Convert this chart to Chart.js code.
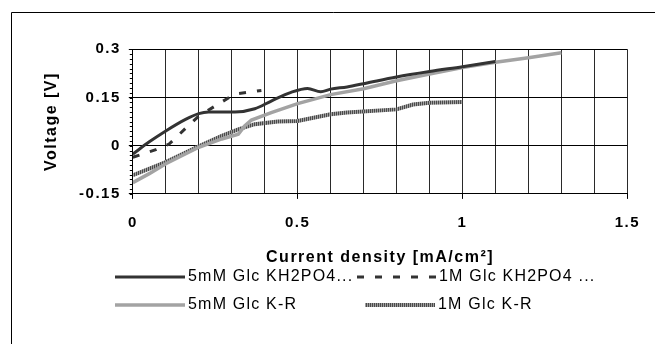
<!DOCTYPE html>
<html>
<head>
<meta charset="utf-8">
<script src="https://cdn.jsdelivr.net/npm/chart.js@4/dist/chart.umd.min.js"></script>
<style>
  body { margin: 0; background: #fff; }
  canvas { display: block; }
</style>
</head>
<body>
<canvas id="myChart" width="655" height="344"></canvas>
<script>
'use strict';
// data
var seriesNames = ['5mM Glc KH2PO4...', '1M Glc KH2PO4 ...', '5mM Glc K-R', '1M Glc K-R'];

var kh5mX = [0, 0.05, 0.1, 0.16, 0.2, 0.23, 0.31, 0.37, 0.42, 0.48, 0.53, 0.57, 0.6, 0.65, 0.7, 0.8, 0.9, 1.0, 1.1];
var kh5mY = [-0.026, 0.012, 0.046, 0.082, 0.1, 0.105, 0.105, 0.115, 0.139, 0.166, 0.178, 0.168, 0.176, 0.183, 0.193, 0.214, 0.231, 0.246, 0.262];

var kh1MX = [0, 0.07, 0.11, 0.16, 0.2, 0.26, 0.31, 0.39];
var kh1MY = [-0.036, -0.012, 0.005, 0.054, 0.092, 0.13, 0.161, 0.172];

var kr5mX = [0, 0.05, 0.1, 0.2, 0.27, 0.32, 0.34, 0.36, 0.42, 0.5, 0.6, 0.7, 0.8, 0.9, 1.0, 1.1, 1.2, 1.3];
var kr5mY = [-0.115, -0.087, -0.056, -0.005, 0.021, 0.036, 0.062, 0.08, 0.103, 0.131, 0.159, 0.177, 0.202, 0.223, 0.243, 0.26, 0.274, 0.289];

var kr1MX = [0, 0.1, 0.2, 0.27, 0.32, 0.37, 0.44, 0.5, 0.6, 0.65, 0.8, 0.85, 0.9, 1.0];
var kr1MY = [-0.092, -0.051, -0.002, 0.031, 0.051, 0.067, 0.075, 0.077, 0.098, 0.103, 0.113, 0.128, 0.134, 0.136];

var xTickLabels = ['0', '0.5', '1', '1.5'];
var yTickLabels = ['-0.15', '0', '0.15', '0.3'];

var FONT = "'Liberation Sans', Arial, sans-serif";

var toPoints = function (xs, ys) {
  return xs.map(function (x, i) { return { x: x, y: ys[i] }; });
};

// striped line like the excel pattern
var stripeCanvas = document.createElement('canvas');
stripeCanvas.width = 2;
stripeCanvas.height = 1;
var sctx = stripeCanvas.getContext('2d');
sctx.fillStyle = '#4a4a4a';
sctx.fillRect(0, 0, 1, 1);
sctx.fillStyle = '#a0a0a0';
sctx.fillRect(1, 0, 1, 1);
var stripe = sctx.createPattern(stripeCanvas, 'repeat');

var isMajorX = function (v) {
  return Math.abs(v * 2 - Math.round(v * 2)) < 1e-6;
};

// spacing + frame + legend
var excelLook = {
  id: 'excelLook',
  beforeLayout: function (chart) {
    chart.ctx.letterSpacing = '1.5px';
  },
  beforeDraw: function (chart) {
    chart.ctx.letterSpacing = '1.5px';
  },
  afterDraw: function (chart) {
    var ctx = chart.ctx;
    ctx.save();
    // outer frame
    ctx.strokeStyle = '#000';
    ctx.lineWidth = 1;
    ctx.beginPath();
    ctx.moveTo(11.5, 400);
    ctx.lineTo(11.5, 12.5);
    ctx.lineTo(700, 12.5);
    ctx.stroke();

    // minor ticks on the y axis
    var yScale = chart.scales.y;
    var left = chart.chartArea.left;
    ctx.beginPath();
    for (var k = 0; k <= 30; k++) {
      var py = Math.round(yScale.getPixelForValue(-0.15 + k * 0.015)) + 0.5;
      ctx.moveTo(left - 3, py);
      ctx.lineTo(left, py);
    }
    ctx.stroke();

    // legend, 2 x 2
    var slots = [
      { x0: 115, x1: 185, tx: 188, y: 277 },
      { x0: 357, x1: 437, tx: 439, y: 277 },
      { x0: 115, x1: 185, tx: 188, y: 305 },
      { x0: 365, x1: 435, tx: 438, y: 305 }
    ];
    ctx.font = '16px ' + FONT;
    ctx.letterSpacing = '1.2px';
    ctx.textBaseline = 'middle';
    ctx.textAlign = 'left';
    chart.data.datasets.forEach(function (ds, i) {
      var s = slots[i];
      ctx.strokeStyle = ds.borderColor;
      ctx.lineWidth = ds.borderWidth;
      ctx.setLineDash(ds.borderDash || []);
      ctx.beginPath();
      ctx.moveTo(s.x0, s.y);
      ctx.lineTo(s.x1, s.y);
      ctx.stroke();
      ctx.setLineDash([]);
      ctx.fillStyle = '#000';
      ctx.fillText(ds.label, s.tx, s.y);
    });
    ctx.restore();
  }
};

var ctx = document.getElementById('myChart').getContext('2d');
var chart = new Chart(ctx, {
  type: 'line',
  data: {
    datasets: [{
      label: seriesNames[0],
      data: toPoints(kh5mX, kh5mY),
      borderColor: '#333333',
      borderWidth: 3,
      cubicInterpolationMode: 'monotone'
    }, {
      label: seriesNames[1],
      data: toPoints(kh1MX, kh1MY),
      borderColor: '#333333',
      borderWidth: 3,
      borderDash: [7, 11]
    }, {
      label: seriesNames[2],
      data: toPoints(kr5mX, kr5mY),
      borderColor: '#a3a3a3',
      borderWidth: 3.5
    }, {
      label: seriesNames[3],
      data: toPoints(kr1MX, kr1MY),
      borderColor: stripe,
      borderWidth: 4
    }]
  },
  options: {
    responsive: false,
    animation: false,
    devicePixelRatio: 1,
    layout: { padding: { left: 41.6, top: 49.3, right: 21.7, bottom: 76.6 } },
    elements: { point: { radius: 0 }, line: { tension: 0 } },
    plugins: { legend: { display: false }, tooltip: { enabled: false } },
    scales: {
      x: {
        type: 'linear',
        min: 0,
        max: 1.5,
        ticks: {
          stepSize: 0.1,
          autoSkip: false,
          maxRotation: 0,
          padding: 15,
          color: '#000',
          font: { family: FONT, size: 15, weight: 'bold' },
          callback: function (v) {
            return isMajorX(v) ? xTickLabels[Math.round(v * 2)] : '';
          }
        },
        grid: {
          color: '#2a2a2a',
          lineWidth: 1,
          tickLength: 5,
          tickColor: function (c) {
            return c.tick && isMajorX(c.tick.value) ? '#000' : 'rgba(0,0,0,0)';
          }
        },
        border: { color: '#000', width: 1 },
        title: {
          display: true,
          text: 'Current density [mA/cm²]',
          color: '#000',
          padding: 0,
          font: { family: FONT, size: 16, weight: 'bold' }
        },
        afterFit: function (s) { s.height = 73.5; }
      },
      y: {
        min: -0.15,
        max: 0.3,
        ticks: {
          stepSize: 0.15,
          padding: 8,
          color: '#000',
          font: { family: FONT, size: 15, weight: 'bold' },
          callback: function (v) {
            return yTickLabels[Math.round((v + 0.15) / 0.15)];
          }
        },
        grid: { color: '#000', lineWidth: 1, tickLength: 4, tickColor: '#000' },
        border: { color: '#000', width: 1 },
        title: {
          display: true,
          text: 'Voltage [V]',
          color: '#000',
          padding: 0,
          font: { family: FONT, size: 16, weight: 'bold' }
        },
        afterFit: function (s) { s.width = 91.2; }
      }
    }
  },
  plugins: [excelLook]
});
</script>
</body>
</html>
